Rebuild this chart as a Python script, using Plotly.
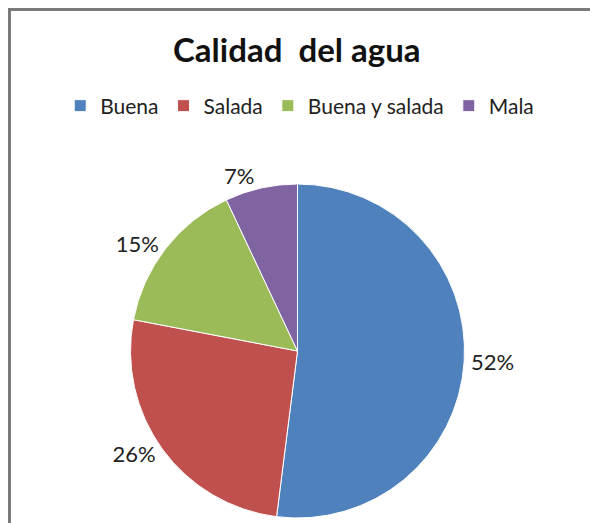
import plotly.graph_objects as go

categories = ["Buena", "Salada", "Buena y salada", "Mala"]
values = [52, 26, 15, 7]
colors = ["#4F81BD", "#C0504D", "#9BBB59", "#8064A2"]
title_text = "Calidad  del agua"

W, H = 590, 523

fig = go.Figure(go.Pie(
    labels=categories,
    values=values,
    sort=False,
    direction="clockwise",
    rotation=0,
    marker=dict(colors=colors, line=dict(color="white", width=1)),
    textinfo="percent",
    texttemplate="%{percent:.0%}",
    textposition="outside",
    textfont=dict(family="Lato", size=22, color="#222222"),
    domain=dict(x=[130 / W, 465 / W], y=[1 - 518 / H, 1 - 184 / H]),
    hoverinfo="label+percent",
))

fig.update_layout(
    width=W, height=H,
    margin=dict(l=0, r=0, t=0, b=0),
    paper_bgcolor="white",
    plot_bgcolor="white",
    title=dict(text="<b>" + title_text + "</b>", x=0.503, xanchor="center",
               y=1 - 50 / H, yanchor="middle",
               font=dict(family="Lato", size=33, color="#111111")),
    legend=dict(orientation="h", x=0.508, xanchor="center", y=1 - 106 / H, yanchor="middle",
                font=dict(family="Lato", size=21, color="#222222"),
                itemwidth=30, traceorder="normal"),
    shapes=[dict(type="rect", xref="paper", yref="paper",
                 x0=9.5 / W, x1=1.05, y0=-0.05, y1=1 - 9.5 / H,
                 line=dict(color="#7a7a7a", width=3), layer="above")],
)

fig.write_html("out.html", config={"displayModeBar": False},
               post_script="document.body.style.margin='0px';document.body.style.overflow='hidden';")
